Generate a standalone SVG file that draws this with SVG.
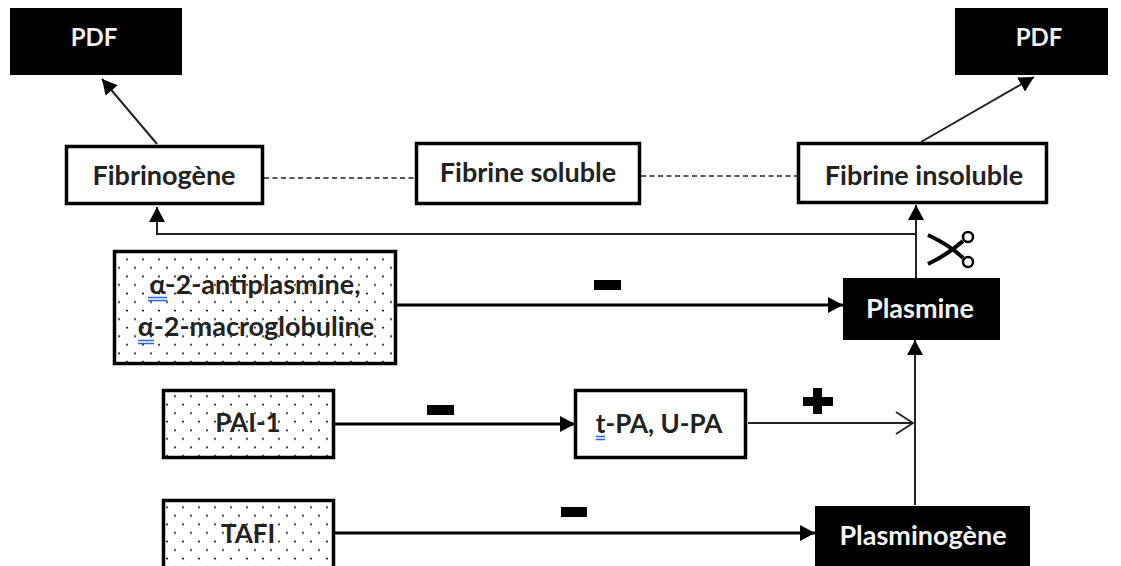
<svg xmlns="http://www.w3.org/2000/svg" width="1121" height="566" viewBox="0 0 1121 566">
<style>
.box{fill:#fff;stroke:#000;stroke-width:3.5}
.dot{fill:url(#dots);stroke:#000;stroke-width:3.5}
.blk{fill:#000}
text{font-family:"Lato","Liberation Sans",sans-serif;font-weight:700;font-size:27px;text-anchor:middle;fill:#222}
.w{fill:#f2f2f2}
.m{font-size:26px}
.p{font-size:24px}
.thin{fill:none;stroke:#222;stroke-width:2}
.thick{fill:none;stroke:#000;stroke-width:3}
.dash{fill:none;stroke:#222;stroke-width:1.5;stroke-dasharray:5 3.5}
.sq{stroke:#2a66e0;stroke-width:1.3;fill:none}
</style>
<defs>
<pattern id="dots" width="16" height="17.1" patternUnits="userSpaceOnUse" x="122" y="254">
<rect width="16" height="17.1" fill="#fff"/>
<circle cx="5" cy="5.300" r="1.1" fill="#222"/>
<circle cx="13" cy="13.850" r="1.1" fill="#222"/>
</pattern>
<marker id="a" markerUnits="userSpaceOnUse" markerWidth="16" markerHeight="18" refX="15" refY="8" orient="auto"><path d="M0 0L15 8L0 16Z" fill="#000"/></marker>
<marker id="o" markerUnits="userSpaceOnUse" markerWidth="20" markerHeight="26" refX="18" refY="12" orient="auto"><path d="M1 1L18 12L1 23" fill="none" stroke="#222" stroke-width="1.800"/></marker>
</defs>
<g id="connectors">
<path class="thin" d="M157 144L102 79" marker-end="url(#a)"/>
<path class="thin" d="M921 142L1034 77" marker-end="url(#a)"/>
<path class="dash" d="M264 178H415"/>
<path class="dash" d="M641 176H798"/>
<path class="thin" d="M916 278V205" marker-end="url(#a)"/>
<path class="thin" d="M916 234H157V207" marker-end="url(#a)"/>
<path class="thick" d="M396 305H843" marker-end="url(#a)"/>
<path class="thick" d="M334 424H575" marker-end="url(#a)"/>
<path class="thin" d="M748 423H913" marker-end="url(#o)"/>
<path class="thin" d="M915 505V340" marker-end="url(#a)"/>
<path class="thick" d="M334 533H815" marker-end="url(#a)"/>
</g>
<g id="pdf-left"><rect class="blk" x="10" y="8" width="172" height="67"/><text class="w p" x="94" y="46">PDF</text></g>
<g id="pdf-right"><rect class="blk" x="955" y="8" width="153" height="67"/><text class="w p" x="1039" y="46">PDF</text></g>
<g id="fibrinogene"><rect class="box" x="66.500" y="146.500" width="196" height="57"/><text x="164" y="185">Fibrinogène</text></g>
<g id="fibrine-soluble"><rect class="box" x="416.500" y="143.500" width="223" height="60"/><text x="528" y="182">Fibrine soluble</text></g>
<g id="fibrine-insoluble"><rect class="box" x="798.500" y="143.500" width="248" height="59"/><text x="924" y="185">Fibrine insoluble</text></g>
<g id="antiplasmine"><rect class="dot" x="114.500" y="251.500" width="281" height="112"/>
<text x="255" y="294">α-2-antiplasmine,</text><text x="256" y="336">α-2-macroglobuline</text>
<path class="sq" d="M148 297.500h19M148 300.500h19M138 340.500h16M138 343.500h16"/></g>
<g id="plasmine"><rect class="blk" x="843" y="278" width="157" height="62"/><text class="w" x="920" y="318">Plasmine</text></g>
<g id="pai-1"><rect class="dot" x="163.500" y="390.500" width="170" height="67"/><text class="m" x="248" y="432">PAI-1</text></g>
<g id="t-pa"><rect class="box" x="575.500" y="390.500" width="170" height="67"/><text class="m" x="659" y="433">t-PA, U-PA</text>
<path class="sq" d="M596 436.500h9M596 439.500h9"/></g>
<g id="tafi"><rect class="dot" x="163.500" y="500.500" width="170" height="70"/><text class="m" x="248" y="543">TAFI</text></g>
<g id="plasminogene"><rect class="blk" x="815" y="506" width="215" height="60"/><text class="w" x="923" y="545">Plasminogène</text></g>
<g id="signs" fill="#000">
<rect x="594" y="280" width="27" height="10"/>
<rect x="427" y="405" width="27" height="10"/>
<rect x="561" y="507" width="26" height="10"/>
<path d="M813 388h9v9h11v9h-11v8h-9v-8h-10v-9h10z"/>
</g>
<g id="scissors" fill="none" stroke="#000">
<path d="M928 235C945 243 955 250 963 258M928 264C945 256 955 248 963 241" stroke-width="4"/>
<circle cx="968" cy="237" r="5" stroke-width="2.500"/>
<circle cx="968" cy="262" r="5" stroke-width="2.500"/>
</g>
</svg>
